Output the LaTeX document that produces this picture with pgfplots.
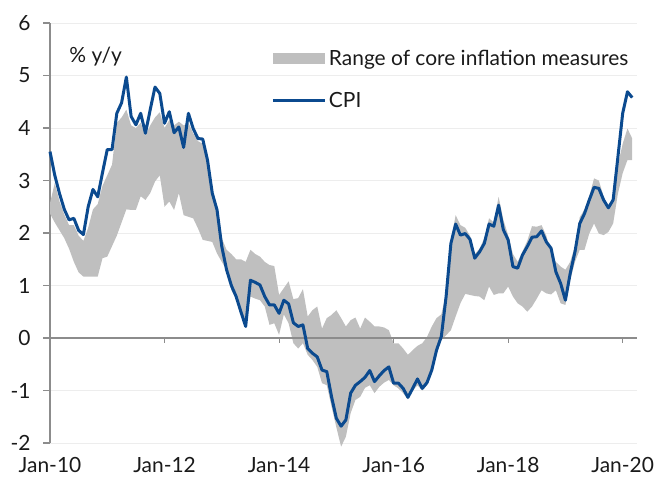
\documentclass[border=0pt]{standalone}
\usepackage{fontspec}
\setmainfont{Lato}
\usepackage{pgfplots}
\pgfplotsset{compat=1.18}
\usepackage{pgfplotstable}
\usepgfplotslibrary{fillbetween}
\definecolor{band}{HTML}{BFBFBF}
\definecolor{cpiblue}{HTML}{0B4A8F}
\definecolor{axgray}{HTML}{8C8C8C}
\definecolor{gridgray}{HTML}{EDEDED}
\definecolor{txt}{HTML}{1A1A1A}

% m = months since Jan-10, lo/hi = range of core measures, cpi = headline CPI
\pgfplotstableread{
m lo hi cpi
0 2.37 2.57 3.55
1 2.20 2.95 3.10
2 2.05 2.60 2.75
3 1.90 2.35 2.45
4 1.70 2.15 2.25
5 1.45 2.15 2.28
6 1.25 1.95 2.05
7 1.17 1.85 1.97
8 1.17 2.10 2.50
9 1.17 2.45 2.83
10 1.17 2.55 2.69
11 1.52 2.90 3.15
12 1.55 3.10 3.59
13 1.75 3.30 3.59
14 1.95 4.10 4.28
15 2.20 4.20 4.48
16 2.45 4.35 4.97
17 2.44 4.05 4.22
18 2.44 4.00 4.06
19 2.70 4.10 4.28
20 2.63 3.85 3.90
21 2.76 4.05 4.35
22 2.98 4.20 4.78
23 3.10 4.30 4.66
24 2.50 4.00 4.09
25 2.60 4.15 4.31
26 2.44 4.05 3.91
27 2.76 4.12 4.02
28 2.34 4.05 3.63
29 2.31 4.10 4.28
30 2.28 3.90 3.99
31 2.09 3.75 3.80
32 1.87 3.70 3.79
33 1.85 3.30 3.39
34 1.83 2.70 2.76
35 1.61 2.40 2.44
36 1.45 1.90 1.74
37 1.30 1.68 1.30
38 0.91 1.60 1.00
39 0.75 1.50 0.79
40 0.45 1.50 0.50
41 0.20 1.45 0.22
42 0.79 1.68 1.10
43 0.75 1.60 1.06
44 0.72 1.55 1.01
45 0.60 1.45 0.79
46 0.25 1.39 0.63
47 0.28 1.37 0.63
48 0.06 0.82 0.47
49 0.45 0.95 0.72
50 0.28 1.08 0.65
51 -0.10 0.74 0.29
52 -0.20 0.76 0.22
53 -0.10 0.93 0.25
54 -0.32 0.41 -0.20
55 -0.42 0.53 -0.29
56 -0.55 0.60 -0.36
57 -0.86 0.18 -0.61
58 -0.90 0.38 -0.64
59 -1.31 0.44 -1.12
60 -1.70 0.53 -1.53
61 -2.07 0.38 -1.68
62 -1.88 0.22 -1.56
63 -1.43 0.34 -1.05
64 -1.18 0.39 -0.90
65 -1.12 0.18 -0.83
66 -0.95 0.39 -0.75
67 -0.90 0.31 -0.62
68 -1.05 0.22 -0.83
69 -0.93 0.22 -0.72
70 -0.85 0.20 -0.62
71 -0.80 0.15 -0.55
72 -0.90 -0.10 -0.86
73 -0.96 -0.10 -0.86
74 -1.05 -0.20 -0.96
75 -1.17 -0.32 -1.13
76 -1.00 -0.23 -0.96
77 -0.90 -0.15 -0.78
78 -1.00 -0.10 -0.96
79 -0.90 0.02 -0.85
80 -0.67 0.22 -0.61
81 -0.29 0.38 -0.23
82 -0.04 0.45 0.03
83 0.05 0.85 0.79
84 0.15 1.85 1.80
85 0.41 2.34 2.17
86 0.66 2.15 1.96
87 0.84 2.10 1.99
88 0.82 1.95 1.88
89 0.80 1.60 1.52
90 0.79 1.70 1.64
91 0.72 1.90 1.80
92 0.98 2.28 2.17
93 0.82 2.20 2.13
94 0.85 2.69 2.53
95 0.85 2.25 2.06
96 0.98 1.96 1.87
97 0.79 1.60 1.36
98 0.66 1.45 1.33
99 0.60 1.65 1.58
100 0.50 1.85 1.74
101 0.60 2.13 1.92
102 0.75 2.12 1.93
103 0.91 2.15 2.04
104 0.85 1.95 1.83
105 0.83 1.60 1.71
106 0.91 1.45 1.26
107 0.66 1.36 1.04
108 0.63 1.30 0.72
109 1.10 1.45 1.23
110 1.45 1.75 1.64
111 1.68 2.30 2.18
112 1.68 2.45 2.37
113 1.99 2.70 2.63
114 2.18 3.04 2.87
115 1.99 3.00 2.85
116 1.96 2.70 2.63
117 2.02 2.50 2.48
118 2.18 2.65 2.63
119 2.75 3.30 3.45
120 3.14 3.70 4.28
121 3.39 3.99 4.69
122 3.39 3.80 4.58
}\data

\begin{document}
\begin{tikzpicture}
\begin{axis}[
    at={(0,0)}, anchor=south west,
    scale only axis, width=440.25pt, height=315pt,
    xmin=0, xmax=123, ymin=-2, ymax=6,
    axis y line*=left, axis x line*=bottom,
    x axis line style={draw=none},
    y axis line style={draw=axgray, line width=0.8pt},
    ytick={-2,-1,0,1,2,3,4,5,6},
    xtick={0,24,48,72,96,120},
    xticklabels={Jan-10,Jan-12,Jan-14,Jan-16,Jan-18,Jan-20},
    x tick style={draw=none},
    y tick style={draw=axgray, line width=0.8pt},
    tick align=outside, major tick length=5pt,
    ymajorgrids, grid style={gridgray, line width=0.5pt},
    tick label style={font=\fontsize{15.7}{18}\selectfont, text=txt},
    xticklabel style={yshift=-2.5pt},
    yticklabel style={xshift=-6pt},
    /pgf/number format/assume math mode=true,
    legend cell align=left,
    legend style={draw=none, fill=none, at={(rel axis cs:0.3765,0.943)},
        anchor=north west, inner sep=0pt, row sep=14.5pt,
        font=\fontsize{15.7}{18}\selectfont, text=txt,
        /tikz/every even column/.append style={column sep=5pt}},
    clip=false,
]
\addplot[name path=hi, draw=none, forget plot] table[x=m, y=hi] {\data};
\addplot[name path=lo, draw=none, forget plot] table[x=m, y=lo] {\data};
\addplot[fill=band, draw=none,
    legend image code/.code={\fill[band] (0pt,-4.1pt) rectangle (39pt,4.1pt);}]
    fill between[of=hi and lo];
\addlegendentry{Range of core inflation measures}

\draw[axgray, line width=0.8pt] (axis cs:0,0) -- (axis cs:123,0);
\pgfplotsinvokeforeach{24,48,72,96,120}{
    \draw[axgray, line width=0.8pt] (axis cs:#1,0) -- ++(0pt,-4pt);
}

\addplot[cpiblue, line width=2.25pt, line join=round,
    legend image code/.code={\draw[cpiblue, line width=2.25pt] (0pt,0pt) -- (39pt,0pt);}]
    table[x=m, y=cpi] {\data};
\addlegendentry{CPI}

\node[anchor=west, font=\fontsize{15.7}{18}\selectfont, text=txt]
    at (rel axis cs:0.025,0.919) {\% y/y};
\end{axis}
\pgfresetboundingbox
\path[use as bounding box] (-37.5pt,-30pt) rectangle (455.25pt,332.25pt);
\end{tikzpicture}
\end{document}
